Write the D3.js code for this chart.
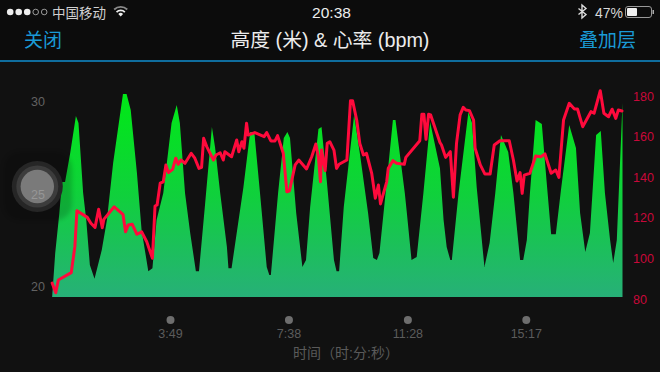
<!DOCTYPE html>
<html>
<head>
<meta charset="utf-8">
<script src="https://cdn.jsdelivr.net/npm/d3@7"></script>
<style>
    html, body { margin: 0; padding: 0; background: #111; }
    svg { display: block; }
    text { font-family: "Liberation Sans", "Noto Sans CJK SC", sans-serif; }
</style>
</head>
<body>
<svg id="chart" width="660" height="372"></svg>
<script>
// elapsed seconds and altitude (m)
var altTimes = [1, 7, 15, 20, 26, 36, 47, 52, 61, 67, 74, 83, 97, 107, 119, 138, 145, 153, 165, 174, 187, 195, 203, 216, 232, 242, 248, 258, 268, 279, 285, 297, 310, 316, 326, 339, 342, 348, 371, 384, 392, 403, 416, 421, 424, 438, 449, 456, 461, 473, 485, 492, 500, 516, 522, 532, 546, 551, 556, 565, 585, 596, 612, 622, 629, 634, 651, 660, 665, 683, 687, 696, 706, 719, 732, 751, 758, 764, 771, 774, 787, 806, 813, 822, 825, 837, 847, 858, 869, 883, 893, 906, 912, 919, 925, 936, 948, 957, 966, 975, 985, 1001, 1014, 1022, 1032, 1041, 1053, 1062, 1070, 1080, 1086, 1093, 1104];
var altValues = [19.42, 21.82, 23.98, 25.65, 25.65, 27.22, 29.22, 28.84, 25.06, 23.6, 21.17, 20.43, 21.98, 23.6, 26.68, 30.41, 30.41, 29.55, 26.14, 23.06, 20.84, 21, 23.6, 25.06, 28.84, 29.82, 28.84, 25.06, 22.9, 20.84, 20.84, 24.52, 28.63, 27.55, 25.06, 22.14, 21, 21, 25.38, 28.36, 28.36, 25.06, 21.06, 20.63, 20.63, 25.06, 28.03, 28.36, 28.03, 23.98, 21.06, 21.44, 24.3, 28.52, 28.63, 25.76, 21.44, 20.84, 20.84, 24.3, 29.28, 27.22, 23.98, 21.55, 21.44, 21.82, 26.47, 29, 29, 25.06, 23.98, 21.44, 21.6, 25.06, 28.9, 26.4, 23.6, 22.14, 21.44, 21.44, 25.06, 29.44, 28.84, 25.38, 24.52, 21.06, 22.36, 25.06, 28.19, 27.28, 25.06, 21.44, 21.44, 22.52, 25.06, 29, 28.79, 25.76, 22.84, 22.84, 25.22, 28.74, 27.49, 23.98, 21.87, 22.9, 28.19, 28.41, 25.06, 22.52, 21.28, 22.52, 29.92];

// elapsed seconds and heart rate (bpm)
var hrTimes = [1, 8, 13, 38, 45, 49, 69, 76, 84, 91, 98, 101, 121, 138, 143, 148, 156, 165, 174, 184, 195, 200, 204, 210, 216, 221, 226, 234, 240, 245, 250, 258, 270, 277, 285, 290, 294, 300, 313, 318, 326, 332, 335, 348, 358, 362, 368, 372, 377, 380, 393, 411, 416, 424, 432, 437, 448, 455, 460, 471, 478, 493, 503, 511, 516, 520, 522, 529, 533, 538, 546, 551, 556, 571, 578, 582, 590, 596, 603, 609, 619, 626, 632, 636, 648, 651, 660, 667, 682, 685, 712, 716, 720, 724, 729, 733, 751, 754, 762, 771, 777, 783, 790, 796, 801, 808, 816, 819, 829, 838, 848, 856, 867, 885, 893, 900, 906, 910, 914, 925, 936, 946, 954, 966, 975, 981, 990, 1001, 1011, 1017, 1027, 1043, 1049, 1061, 1068, 1077, 1084, 1091, 1096, 1103];
var hrValues = [88, 83.2, 89.5, 93.1, 105.9, 123.6, 120.3, 117.4, 115.4, 124.3, 115.2, 119.3, 125.5, 121.8, 113.2, 116.5, 116.9, 112, 113.2, 108.3, 100.2, 125.9, 126.4, 137.1, 137.8, 146.1, 142.3, 143.9, 149.4, 146.4, 148.5, 146.9, 151.8, 149.4, 144.4, 144.9, 159.2, 155.1, 148.5, 151, 152.1, 148.5, 152.6, 150.1, 158.4, 152.6, 157.5, 154.3, 166.6, 160.8, 162, 160, 162, 157.9, 157.9, 160.5, 151.8, 132.9, 133.4, 146.1, 148.5, 144.1, 150.1, 156.4, 149.8, 137.8, 153.4, 143.3, 156.7, 157.5, 153.4, 144.4, 146.4, 148.5, 177.7, 177.7, 168.2, 156.7, 151, 151.8, 142, 129.7, 136.2, 126.9, 137.8, 144.4, 148.2, 146.9, 146.4, 149.8, 158, 171, 171, 158.7, 171, 170.7, 157.1, 155.9, 149.8, 152.6, 130.2, 156.7, 170.7, 174.4, 173.1, 172.8, 168.2, 154.3, 146.1, 141.6, 141.6, 155.9, 158, 158, 148.5, 138.2, 142.3, 132.1, 141.1, 142, 150.5, 150.1, 151.5, 142, 143.6, 140, 168.2, 176.4, 173.6, 173.6, 164.9, 172.3, 171.5, 182.6, 171.5, 169.8, 173.5, 169, 173.1, 172.6];

var altTicks = [20, 25, 30];
var hrTicks = [80, 100, 120, 140, 160, 180];
var timeTicks = [229, 458, 688, 917];

var svg = d3.select("#chart");
var blue = "#1a9ad6";

svg.append("rect").attr("width", 660).attr("height", 60).attr("fill", "#0c0c0c");
svg.append("rect").attr("y", 60).attr("width", 660).attr("height", 2).attr("fill", "#0f6d9e");

var x = d3.scaleLinear().domain([0, 1104]).range([51.6, 622.5]);
var yAlt = d3.scaleLinear().domain([20, 30]).range([286.7, 101.6]);
var yHr = d3.scaleLinear().domain([80, 180]).range([299.3, 96]);
var baseY = 297;

var defs = svg.append("defs");

// gradient under the altitude
var grad = defs.append("linearGradient")
    .attr("id", "altFill")
    .attr("gradientUnits", "userSpaceOnUse")
    .attr("x1", 0).attr("x2", 0)
    .attr("y1", 94).attr("y2", baseY);
grad.append("stop").attr("offset", "0%").attr("stop-color", "#00e916");
grad.append("stop").attr("offset", "50%").attr("stop-color", "#10d03c");
grad.append("stop").attr("offset", "100%").attr("stop-color", "#27b078");

defs.append("filter").attr("id", "soft")
    .append("feGaussianBlur").attr("stdDeviation", 2);

var altData = altTimes.map(function (t, i) { return { t: t, v: altValues[i] }; });
var hrData = hrTimes.map(function (t, i) { return { t: t, v: hrValues[i] }; });

var area = d3.area()
    .x(function (d) { return x(d.t); })
    .y0(baseY)
    .y1(function (d) { return yAlt(d.v); });

svg.append("path")
    .datum(altData)
    .attr("d", area)
    .attr("fill", "url(#altFill)");

var line = d3.line()
    .x(function (d) { return x(d.t); })
    .y(function (d) { return yHr(d.v); });

svg.append("path")
    .datum(hrData)
    .attr("d", line)
    .attr("fill", "none")
    .attr("stroke", "#ff0a3c")
    .attr("stroke-width", 3)
    .attr("stroke-linejoin", "round")
    .attr("stroke-linecap", "round");

// overlay handle on the left
svg.append("rect")
    .attr("x", 4).attr("y", 152).attr("width", 68).attr("height", 68).attr("rx", 16)
    .attr("fill", "#000").attr("opacity", 0.16)
    .attr("filter", "url(#soft)");
svg.append("circle").attr("cx", 37.3).attr("cy", 186.5).attr("r", 25.5).attr("fill", "#262626");
svg.append("circle").attr("cx", 37.3).attr("cy", 186.5).attr("r", 21).attr("fill", "#3c3c3c");
svg.append("circle").attr("cx", 37.3).attr("cy", 186.5).attr("r", 16.7).attr("fill", "#7a7a7a");

// axes
var axisLeft = svg.append("g")
    .attr("transform", "translate(45,0)")
    .call(d3.axisLeft(yAlt).tickValues(altTicks).tickSize(0).tickPadding(0));
axisLeft.select(".domain").remove();
axisLeft.selectAll("text")
    .attr("font-size", 12.5)
    .attr("fill", function (d) { return d === 25 ? "#969696" : "#626262"; });

var axisRight = svg.append("g")
    .attr("transform", "translate(633,0)")
    .call(d3.axisRight(yHr).tickValues(hrTicks).tickSize(0).tickPadding(0));
axisRight.select(".domain").remove();
axisRight.selectAll("text")
    .attr("font-size", 12.5)
    .attr("fill", "#c9083a");

var axisBottom = svg.append("g")
    .attr("transform", "translate(0,320)")
    .call(d3.axisBottom(x).tickValues(timeTicks).tickSize(0).tickPadding(9)
        .tickFormat(function (d) { return Math.floor(d / 60) + ":" + d3.format("02")(d % 60); }));
axisBottom.select(".domain").remove();
axisBottom.selectAll("text")
    .attr("font-size", 12.5)
    .attr("fill", "#5c5c5c");
axisBottom.selectAll(".tick").append("circle")
    .attr("r", 4)
    .attr("fill", "#6e6e6e");

svg.append("text")
    .attr("x", 346).attr("y", 358)
    .attr("text-anchor", "middle")
    .attr("font-size", 14)
    .attr("fill", "#5a5a5a")
    .text("时间（时:分:秒）");

// header
svg.append("text").attr("x", 24).attr("y", 47).attr("font-size", 19).attr("fill", blue).text("关闭");
svg.append("text").attr("x", 636).attr("y", 47).attr("text-anchor", "end").attr("font-size", 19).attr("fill", blue).text("叠加层");
svg.append("text").attr("x", 330).attr("y", 47).attr("text-anchor", "middle").attr("font-size", 19.8).attr("fill", "#ececec").text("高度 (米) & 心率 (bpm)");

// status bar
var signal = [1, 1, 1, 0, 0];
svg.selectAll(".signal").data(signal).enter().append("circle")
    .attr("class", "signal")
    .attr("cx", function (d, i) { return 10.2 + i * 8.5; })
    .attr("cy", 12)
    .attr("r", function (d) { return d ? 3.3 : 2.8; })
    .attr("fill", function (d) { return d ? "#eee" : "none"; })
    .attr("stroke", "#bbb")
    .attr("stroke-width", function (d) { return d ? 0 : 0.8; });
svg.append("text").attr("x", 52).attr("y", 18).attr("font-size", 13.5).attr("fill", "#d0d0d0").text("中国移动");
[10.5, 7, 3.5].forEach(function (r) {
    var arc = d3.arc().innerRadius(r === 3.5 ? 0 : r - 1.8).outerRadius(r).startAngle(-0.75).endAngle(0.75);
    svg.append("path").attr("transform", "translate(120.7,16.5)").attr("d", arc()).attr("fill", r === 10.5 ? "#8a8a8a" : "#efefef");
});
svg.append("text").attr("x", 331.5).attr("y", 18).attr("text-anchor", "middle").attr("font-size", 15.5).attr("fill", "#eee").text("20:38");
svg.append("path")
    .attr("d", "M578.5 8.5 L586 14.5 L582 18 L582 5 L586 8.5 L578.5 14.5")
    .attr("fill", "none").attr("stroke", "#ddd").attr("stroke-width", 1.4);
svg.append("text").attr("x", 595).attr("y", 17.5).attr("font-size", 14).attr("fill", "#d8d8d8").text("47%");
svg.append("rect").attr("x", 625.5).attr("y", 6.5).attr("width", 26).attr("height", 11).attr("rx", 2.5).attr("fill", "none").attr("stroke", "#999");
svg.append("rect").attr("x", 627).attr("y", 8).attr("width", 10).attr("height", 8).attr("rx", 1).attr("fill", "#f0f0f0");
svg.append("rect").attr("x", 652.5).attr("y", 10).attr("width", 1.5).attr("height", 4).attr("fill", "#aaa");
</script>
</body>
</html>
